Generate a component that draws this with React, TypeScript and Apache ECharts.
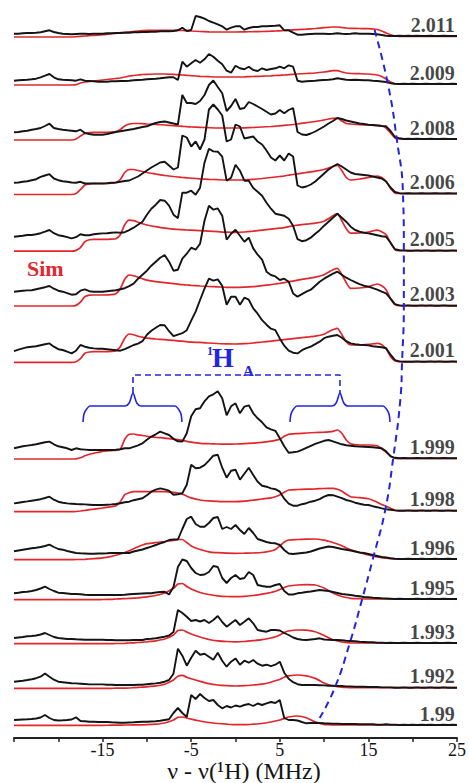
import React, { useEffect, useRef } from "react";
import * as echarts from "echarts";

// g-value of each spectrum (top to bottom)
const LABELS = ["2.011", "2.009", "2.008", "2.006", "2.005", "2.003", "2.001", "1.999", "1.998", "1.996", "1.995", "1.993", "1.992", "1.99"];
// vertical offset of each spectrum in the stack (arbitrary intensity units)
const BASELINES = [702, 654, 599, 544.5, 487.3, 432.3, 376.3, 279.7, 227.3, 179, 139, 95, 50.3, 13];
const TICK_LABELS = [-15, -5, 5, 15, 25];

// frequency grid of the experimental traces, MHz
const X_EXP = [
  -25, -24.5, -24, -23.5, -23, -22.5, -22, -21.5, -21, -20.5,
  -20, -19.5, -19, -18.5, -18, -17.5, -17, -16.5, -16, -15.5,
  -15, -14.5, -14, -13.5, -13, -12.5, -12, -11.5, -11, -10.5,
  -10, -9.5, -9, -8.5, -8, -7.5, -7, -6.5, -6, -5.5,
  -5, -4.5, -4, -3.5, -3, -2.5, -2, -1.5, -1, -0.5,
  0, 0.5, 1, 1.5, 2, 2.5, 3, 3.5, 4, 4.5,
  5, 5.5, 6, 6.5, 7, 7.5, 8, 8.5, 9, 9.5,
  10, 10.5, 11, 11.5, 12, 12.5, 13, 13.5, 14, 14.5,
  15, 15.5, 16, 16.5, 17, 17.5, 18, 18.5, 19, 19.5,
  20, 20.5, 21, 21.5, 22, 22.5, 23, 23.5, 24, 24.5,
  25,
];

const EXP_2011 = [2.3, 2.3, 2.7, 3, 3, 3.3, 3.7, 4.7, 5.7, 4, 3, 2.3, 2, 1.7, 2, 2.3, 2.3, 2, 2.3, 2.3, 2.3, 2.7, 2.7, 3, 3, 3.3, 3.3, 3.7, 3.7, 4, 4, 4.3, 4.3, 4.7, 4.7, 4.7, 5, 5.7, 8.3, 5, 6, 20, 19, 17.3, 15, 13.3, 11.7, 9.7, 6.3, 8.3, 9.7, 9.7, 6.3, 8, 9, 9, 9.7, 9.7, 10, 10.3, 10.7, 5.7, 5.7, 3.3, 1.3, 1.3, 1.7, 2, 2.3, 2.3, 2.3, 2, 2.3, 2.7, 2.3, 2, 2.3, 2.7, 2.3, 2.3, 2.3, 2, 1.7, 1, 0.3, 0, 0, 0.3, 0, 0.3, 0, 0.3, 0, 0, 0.3, 0, 0, 0.3, 0, 0, 0];
const EXP_2009 = [3.3, 3.7, 4, 4.3, 4.7, 5.3, 6.7, 8.3, 10, 6.7, 4.7, 4.3, 4, 3.7, 3.3, 4.7, 3.3, 3, 2.7, 2.3, 2.3, 2.3, 2.7, 2.7, 3, 3, 3.3, 3.7, 4, 4.3, 4.7, 5, 5.3, 5.7, 6.3, 6.7, 6.7, 4, 22.3, 17.3, 20.7, 24, 21.3, 24.7, 30, 27.3, 23.3, 19.7, 13.3, 11.3, 18.3, 15.7, 14.7, 17.3, 14, 13, 15.7, 14, 15, 15.7, 17.3, 15.7, 18.7, 17.3, 3.3, 2.3, 2.7, 3, 3.3, 3.7, 4, 4.3, 4.7, 5.7, 5, 4.3, 4, 4.3, 4, 3.7, 3.7, 3.3, 3, 2.5, 2, 0.8, 0.3, 0, 0.3, 0, 0.3, 0, 0, 0.3, 0, 0, 0.3, 0, 0, 0.3, 0];
const EXP_2008 = [6.7, 7, 7.7, 8.3, 9.3, 10, 11, 13, 15.3, 11, 10, 9.3, 8.7, 8.3, 7.7, 9.3, 6, 5, 4.3, 4.3, 4.3, 5, 6, 7, 7.7, 8.5, 9.3, 10, 11, 12, 12.7, 14.5, 16, 17, 17.5, 16.5, 15.5, 14.5, 44, 36, 36, 35, 38, 44, 54, 58.5, 52, 45.7, 28, 33, 40, 30, 31, 37, 35, 32.5, 30, 27.3, 24.5, 25.5, 29, 25.7, 29, 31, 7, 4.5, 4, 5.5, 7.5, 10, 12.5, 15.5, 18, 21, 20, 18.5, 17.5, 16.5, 15.5, 15, 14.3, 14, 13.5, 13, 12.7, 8, 2, 0.7, 0, 0.3, 0, 0.3, 0, 0, 0.3, 0, 0, 0.3, 0, 0, 0];
const EXP_2006 = [10.7, 11, 11.7, 12.3, 13.3, 14.3, 16.7, 18, 19.3, 15, 13.3, 12.3, 11.7, 11, 10.7, 11.7, 10, 10, 10, 10, 10, 10.3, 10.7, 11, 11.7, 12.5, 13, 15, 17, 20, 23, 26, 28.5, 31, 31.7, 28, 24, 26, 58, 56, 47, 52, 44, 54, 84, 89, 84, 78, 52, 54, 69, 67, 55, 56, 57, 52, 49, 43, 36, 33, 38, 33, 40, 37, 8, 6, 7, 9, 12, 16, 20, 24, 27, 29.5, 27, 24, 21, 19.5, 19, 18.5, 18, 17, 16, 15, 12, 6, 1.5, 0.3, 0, 0.3, 0, 0, 0.3, 0, 0, 0.3, 0, 0, 0.3, 0, 0];
const EXP_2005 = [14, 14.5, 15, 15.7, 15.7, 16.5, 17.5, 19, 20.7, 17.5, 15.5, 14.7, 13.5, 12.3, 13.5, 16.5, 15.5, 15.5, 16.5, 17, 17.3, 17.5, 18, 18.3, 18, 18.5, 20.5, 23, 26, 29, 36, 42, 46, 50.7, 50, 45, 36, 32.5, 58, 58, 60, 56, 63, 88, 102, 99.3, 99, 94, 70, 73, 86, 80, 70, 70, 62.7, 59, 55, 48, 42, 37, 36, 35, 32, 25, 11.5, 9.5, 10.5, 13, 17, 20.5, 25, 29, 33, 37, 33, 29, 24, 20.7, 19, 18, 17.3, 16.5, 15.5, 14.5, 14, 8, 1.5, 0.5, 0.3, 0, 0, 0.3, 0, 0.3, 0, 0, 0.3, 0, 0, 0.3, 0];
const EXP_2003 = [14, 14.5, 15, 15.3, 15.5, 16.5, 17.5, 18.5, 19.7, 17, 15, 14, 12.5, 11, 11.5, 15, 16.3, 14.5, 14, 14, 14, 14.5, 15, 15.5, 16.5, 17.5, 19.5, 22, 27, 31, 35, 40, 44, 48, 50.7, 44, 35, 36, 47, 52, 58, 56, 62, 85, 100, 96, 97.3, 90, 66, 72, 76, 70, 64, 68, 57.3, 51, 46, 34, 30.7, 29.3, 25.7, 27, 24, 12.3, 9, 11.5, 14, 16, 20, 24, 27, 29.5, 32, 34, 31, 28, 25.7, 23.5, 21.5, 20, 19, 17.5, 16, 14, 12.3, 7, 1.5, 0.3, 0, 0.3, 0, 0, 0.3, 0, 0.3, 0, 0, 0.3, 0, 0, 0];
const EXP_2001 = [10.5, 12, 13.3, 14.5, 15, 15.5, 16.5, 17.5, 18.3, 15, 12.5, 11.7, 10, 8.3, 11, 16.7, 15, 14, 13.3, 13, 13, 12.5, 12, 11.5, 11, 12.5, 14.5, 16.7, 18, 20.5, 27, 31, 34, 36.7, 36.5, 30.5, 25.5, 27, 28.5, 31.5, 41, 50, 61.7, 73, 83, 81, 82.3, 76, 57, 65, 65, 57, 64, 62, 53.3, 48, 41.5, 37, 33, 31.5, 23.3, 16, 11, 9, 8.3, 11.5, 13.5, 15, 17.5, 20, 23.5, 25, 26, 26.7, 24, 20.5, 18.3, 17.5, 17, 16.7, 16.3, 15.5, 15, 14.5, 13.5, 7, 1.5, 0.3, 0, 0, 0, 0.3, 0, 0, 0.3, 0, 0.3, 0, 0, 0.3, 0];
const EXP_1999 = [10, 11, 12, 12.7, 13.3, 14, 15, 16, 16.7, 14, 12, 11, 10, 8.3, 10, 9, 8.7, 8.3, 8.3, 8.3, 8.3, 8.3, 8.3, 8.5, 9, 10, 10, 11.5, 13, 15, 18.5, 21.7, 24, 26.7, 25, 23.3, 19.5, 17, 16.7, 25, 42, 49, 50, 57, 62, 64, 67, 60, 43, 52, 55, 45, 51.7, 53, 45, 40, 36, 31, 29, 27.5, 20, 12, 5.5, 6, 6.7, 8.5, 10.5, 12.5, 14.5, 16, 17.5, 18.3, 17, 15.5, 14, 13, 12.5, 12, 11.7, 11.5, 11.3, 11, 10.5, 10, 7, 2, 0.5, 0, 0.3, 0, 0, 0.3, 0, 0, 0.3, 0, 0, 0.3, 0, 0, 0];
const EXP_1998 = [7.3, 8, 8.7, 9.3, 10, 10.7, 11.5, 12.7, 14, 11, 9, 8, 7.3, 7, 6.7, 6.5, 6.3, 6, 5.7, 5.7, 5.7, 6, 6.3, 6.7, 7.5, 8.5, 9, 10.5, 11.5, 12.5, 15.5, 19, 21, 22.3, 21.3, 20, 16, 16.5, 17.5, 26, 46, 42.5, 43, 45.5, 50, 55, 56, 43, 33, 40, 41, 31, 37, 43, 35.7, 29, 25, 24, 22.3, 21.5, 19, 12, 7, 5, 5, 6.5, 7.5, 9, 10, 11.5, 14, 15.7, 15.5, 14, 12.5, 10.7, 9.5, 8, 7, 6, 5.7, 4.5, 3.5, 2.3, 1.5, 1, 0.3, 0, 0, 0.3, 0, 0, 0.3, 0, 0, 0.3, 0, 0, 0.3, 0, 0];
const EXP_1996 = [7.7, 8.5, 9.3, 10, 10.7, 11.3, 12, 13, 14.3, 12, 10, 9.3, 8, 7, 6, 5.7, 5.5, 5.3, 5.3, 5.5, 5.5, 5.7, 6, 6, 6, 6, 6, 7.5, 8.5, 9.5, 11, 12.3, 14, 15.7, 17, 19, 19.5, 19.5, 30, 40, 42.3, 35, 32.3, 32.3, 36, 41, 42, 30, 32, 30, 34, 29, 25, 31, 26, 20, 18.5, 17, 16, 15.7, 14, 9, 5.5, 5, 5.5, 6, 6.5, 7.5, 9, 10.5, 11.5, 12.5, 12, 11, 10, 9.3, 8.5, 7.5, 6.5, 6, 5, 4, 3, 2, 1.5, 0.7, 0.3, 0, 0, 0.3, 0, 0, 0.3, 0, 0, 0.3, 0, 0, 0.3, 0, 0];
const EXP_1995 = [5.7, 6.3, 7, 7.3, 8, 9, 10.5, 12.3, 10, 8, 6.3, 6, 5.5, 5, 5, 4.7, 4.3, 4, 4, 4, 4, 4, 4, 4, 4, 4.3, 4.7, 5, 5.3, 5.5, 5.7, 5.7, 6.5, 7, 7.3, 4.5, 12, 32, 39.5, 38, 31, 26, 24, 24.5, 27, 33, 32, 21, 16, 21, 24, 20, 21, 27, 24, 14, 13, 12.3, 12.3, 14, 15, 8, 4.5, 4.5, 5.7, 6.3, 7, 7.5, 8.3, 9, 8.5, 8, 7, 6, 5, 4.5, 4, 3.3, 2.7, 2, 1.7, 1.3, 1, 0.7, 0.5, 0.3, 0, 0.3, 0, 0, 0, 0.3, 0, 0, 0.3, 0, 0, 0.3, 0, 0, 0];
const EXP_1993 = [5, 5.5, 6, 6.7, 7, 7.5, 8.5, 10, 8, 6, 5, 4.5, 4, 4, 3.7, 3.5, 3.3, 3.3, 3.3, 3.3, 3.3, 3, 3, 2.7, 2.7, 2.7, 2.7, 3, 3, 3, 4, 4.3, 4.7, 5.5, 6.3, 7.5, 11, 33, 30, 26.3, 22, 23, 21.5, 23, 20, 23, 27, 21, 16.3, 19.7, 23, 18, 21.3, 24.7, 19.7, 13, 12, 11.3, 13, 13, 12.5, 10, 8, 5.5, 4, 3.3, 3, 3.5, 4, 4.7, 3.5, 3.3, 3, 3, 2.7, 2.3, 2, 1.7, 1.3, 1, 0.7, 0.7, 0.3, 0.3, 0, 0.3, 0, 0, 0.3, 0, 0, 0.3, 0, 0, 0, 0.3, 0, 0, 0.3, 0, 0];
const EXP_1992 = [6, 6.5, 7, 7.7, 8.5, 9.5, 11, 14.3, 11, 8, 6, 5.5, 5, 4.5, 4.3, 4, 3.7, 3.3, 3.3, 3.3, 3.3, 3, 3, 2.7, 2.7, 2.7, 2.7, 2.7, 3, 3, 3.5, 4, 4.3, 5, 6, 7.7, 14, 39, 32, 22, 30, 37, 33, 34, 31, 28, 35, 27, 21, 26, 29.3, 23, 27, 25, 27.7, 24, 22, 23, 21.5, 23, 26, 15, 9, 5.5, 3.5, 2.7, 2.7, 2.7, 2.7, 2.5, 2.3, 2, 2, 1.7, 1.7, 1.3, 1.3, 1, 1, 1, 0.7, 0.7, 0.7, 0.3, 0.3, 0.3, 0, 0, 0.3, 0, 0, 0.3, 0, 0, 0.3, 0, 0, 0.3, 0, 0, 0];
const EXP_1990 = [5, 5.3, 5.5, 5.7, 6, 6.5, 7.5, 10, 7, 5, 4.5, 4.7, 5, 5.5, 7.7, 4, 3.7, 3.3, 3.3, 3, 3, 3, 2.7, 2.5, 2.3, 2.3, 2.5, 2.7, 3, 3.3, 3.3, 3.5, 3.7, 4.3, 5, 5.7, 12, 17, 12, 8, 30, 26, 31, 27, 24, 25, 20, 16.7, 19, 17.5, 19.5, 18.3, 20, 21, 19, 21.5, 20, 21.7, 23, 22, 25, 7, 5, 5, 4.5, 3, 1.7, 2, 2.3, 2, 1.7, 1.5, 1.3, 1.3, 1, 1, 1, 1, 0.7, 0.7, 0.7, 0.7, 0.3, 0.3, 0.7, 0.3, 0.3, 0, 0.3, 0, 0.3, 0, 0.3, 0, 0.3, 0, 0, 0.3, 0, 0.3, 0];

// frequency grid of the simulated traces, MHz
const X_SIM = [
  -25, -18.5, -18, -17.5, -17, -16.5, -16, -15, -14, -13.5,
  -13, -12.5, -12, -11.5, -11, -10.5, -10, -9, -8, -7,
  -6.5, -6, -5.5, -5, -4, -3, -2, -1, 0, 1,
  2, 3, 4, 4.5, 5, 5.5, 6, 7, 8, 9,
  10, 10.5, 11, 11.5, 12, 12.5, 13, 14, 15, 16,
  16.5, 17, 17.5, 18, 18.5, 19, 25,
];

const SIM_2011 = [-1, -1, -0.7, -0.3, 0, 0.3, 0.7, 1.3, 2.3, 2.7, 3.3, 3.7, 4, 4.5, 5, 5.3, 5.7, 5.7, 5.7, 5.7, 5.7, 5.5, 5.3, 5, 4.5, 4.2, 4, 4, 4, 4.2, 4.3, 4.5, 4.8, 5, 5.2, 5.5, 5.8, 6.3, 6.8, 7.5, 8.3, 8.7, 9, 9, 8.5, 8, 7.7, 7.5, 7.3, 6.5, 5, 3, 1.3, 0, -0.3, -0.3, -0.3];
const SIM_2009 = [-1, -1, -0.7, 1, 2, 2.5, 3, 4, 5, 5.5, 6, 7, 8, 8.5, 9, 9.5, 9.7, 10, 10, 9.7, 9.3, 9, 8.7, 8.3, 7.7, 7.3, 7, 7, 7, 7.2, 7.5, 7.8, 8.2, 8.5, 8.7, 9, 9.3, 10, 10.5, 11, 12, 12.7, 13.3, 13.3, 12, 11, 10.5, 10.3, 10, 9, 7.5, 5, 2, 0, 0, 0, 0];
const SIM_2008 = [-1, -1, 0, 3, 5.5, 6.3, 6.7, 6.7, 7, 7.5, 9.5, 13, 15, 15.5, 15.5, 15.3, 15, 14.5, 14, 13.3, 13, 12.7, 12.3, 12, 11.7, 11.3, 11, 11, 11, 11.2, 11.5, 12, 12.5, 12.8, 13.2, 13.6, 14, 15, 16.3, 17.5, 19, 20, 20.7, 21, 18, 15.5, 15, 14.3, 14, 13.7, 13.3, 11, 6, 1, 0, 0, 0];
const SIM_2006 = [-1, -1, 0, 4, 8.5, 9.7, 10, 10, 10.3, 11, 14, 21, 24, 24, 23, 22, 21, 19.5, 18, 17, 16.5, 16, 15.7, 15.3, 14.7, 14.2, 13.8, 13.5, 13.5, 13.7, 14.2, 15, 16, 16.5, 17, 17.5, 18.3, 19.7, 21, 22.3, 24, 25.5, 27, 28, 23, 16, 13.5, 14.5, 16, 17.5, 16, 12, 5, 0.5, 0, 0, 0];
const SIM_2005 = [-0.5, -0.5, 0.3, 3, 9, 11, 11.3, 11.3, 11.5, 12, 16, 26, 30.5, 30, 28.5, 27, 25.7, 24, 22.5, 21.5, 21.3, 21, 20.7, 20.5, 20, 19.5, 19, 18.5, 18.3, 18.7, 19.5, 20.5, 21.5, 22, 22.5, 23, 24, 25.5, 26.5, 27.5, 29.5, 32, 35, 37, 30, 22, 17.5, 17.7, 18.7, 20.5, 19, 16, 8, 1, 0, 0, 0];
const SIM_2003 = [-0.3, -0.3, 0.3, 3.5, 9, 10.5, 10.7, 10.7, 11, 12, 17, 26.5, 30.7, 30, 28.5, 27, 25.5, 24, 23, 22, 21.5, 21, 20.7, 20.3, 19.7, 19.2, 18.8, 18.4, 18.3, 18.5, 19, 20, 21, 21.7, 22.3, 23, 24, 25.5, 27, 28.5, 31, 33.5, 36, 37.3, 31, 23, 17.3, 17.7, 19, 21.7, 20, 16, 7, 1, 0, 0, 0];
const SIM_2001 = [-0.7, -0.7, 0, 3, 8.5, 9.7, 10, 10, 10.3, 11, 15, 23.5, 27.7, 27, 25.5, 24.5, 23.5, 22.7, 22, 21.3, 20.8, 20.5, 20, 19.5, 19.3, 18.7, 18.2, 17.8, 17.7, 18, 18.7, 19.7, 20.5, 21, 21.5, 22, 22.5, 23.5, 24.5, 25.5, 27.5, 30, 32, 33.3, 27, 20, 16.7, 16.7, 17.3, 18.3, 17, 13, 5, 1, 0, 0, 0];
const SIM_1999 = [-0.7, -0.7, -0.5, 0.5, 2.5, 4, 5, 7, 7.7, 8, 9, 19, 24, 24.3, 23.5, 22.8, 22, 21, 20.2, 19.2, 18.6, 18, 17, 16.2, 15, 14.6, 14.3, 14.2, 14.3, 14.6, 15.2, 16, 17.2, 18, 19, 22, 24, 24.7, 25.3, 25.8, 26.2, 26.5, 27, 28.3, 25, 18.3, 14.5, 13.3, 13.3, 12.5, 9.5, 6, 2.5, 0, 0, 0, 0];
const SIM_1998 = [-1, -1, -0.8, -0.3, 0.3, 1, 1.5, 2.7, 4, 5, 9, 16, 18, 19, 19, 19, 19, 19, 19, 18.3, 17.7, 16.7, 14.5, 12.8, 10.7, 9.8, 9.3, 9, 9, 9.5, 10.5, 11.7, 12.8, 14, 15.7, 18.5, 20.7, 21.2, 21.5, 21.8, 22.2, 22.3, 22.3, 21.5, 19.5, 16.5, 14, 13, 12, 8.5, 6.3, 4.5, 2.5, 0.5, 0, 0, 0];
const SIM_1996 = [-0.7, -0.7, -0.5, -0.5, -0.3, 0, 0.3, 1.2, 2.7, 3.7, 5, 6.5, 8.3, 10.3, 12.3, 14, 15.3, 16.5, 17.5, 18.7, 19.5, 19.5, 16.5, 13, 9.5, 7.2, 6.3, 5.8, 5.7, 5.8, 6, 6.5, 8, 9.5, 13, 17, 19, 19.5, 19.8, 20, 18.8, 17.7, 16.5, 15, 13.3, 11, 9.3, 6.5, 4, 2, 1.3, 0.8, 0.4, 0, 0, 0, 0];
const SIM_1995 = [-0.7, -0.7, -0.7, -0.7, -0.7, -0.7, -0.7, -0.5, -0.3, 0, 0.2, 0.4, 0.6, 0.8, 1.2, 1.7, 2.2, 3.5, 6, 10.7, 15, 15.5, 12.5, 10, 6.5, 4.5, 3.2, 2.5, 2.3, 2.6, 3.5, 4.8, 6.5, 7.7, 9.5, 11.5, 13, 14, 14.3, 14, 11, 8.5, 6, 4, 2.5, 1.5, 0.7, 0.3, 0, 0, 0, 0, 0, 0, 0, 0, 0];
const SIM_1993 = [-0.7, -0.7, -0.7, -0.7, -0.7, -0.7, -0.7, -0.7, -0.6, -0.5, -0.5, -0.3, 0, 0.2, 0.5, 0.8, 1.2, 2.2, 4, 8, 12.5, 13, 11, 9, 6, 3.5, 2.2, 1.5, 1.2, 1.5, 2.3, 3.3, 5, 6.2, 8, 10.5, 12, 13, 12.8, 11.3, 7.5, 5.3, 3.3, 2, 1, 0.5, 0, 0, 0, 0, 0, 0, 0, 0, 0, 0, 0];
const SIM_1992 = [-0.7, -0.7, -0.7, -0.7, -0.7, -0.7, -0.7, -0.7, -0.6, -0.5, -0.5, -0.4, -0.3, 0, 0.3, 0.6, 0.9, 1.8, 3.5, 7.7, 11.5, 12.3, 10.5, 9, 6.3, 4, 2.7, 2, 1.7, 2, 2.7, 3.5, 5.5, 7, 8.2, 10.5, 11.8, 12.7, 11.8, 9.3, 4.7, 3, 1.7, 1, 0.5, 0.2, 0, 0, 0, 0, 0, 0, 0, 0, 0, 0, 0];
const SIM_1990 = [-0.3, -0.3, -0.3, -0.3, -0.3, -0.3, -0.3, -0.3, -0.2, -0.2, -0.1, 0, 0, 0.1, 0.2, 0.2, 0.3, 0.8, 2, 5, 7.7, 8, 7, 5.8, 4, 2.5, 1.5, 0.8, 0.3, 0.3, 0.8, 1.5, 3, 4, 5, 6.5, 8, 9, 7.3, 3, 0.7, 0.3, 0, 0, 0, 0, 0, 0, 0, 0, 0, 0, 0, 0, 0, 0, 0];

const EXP = [EXP_2011, EXP_2009, EXP_2008, EXP_2006, EXP_2005, EXP_2003, EXP_2001, EXP_1999, EXP_1998, EXP_1996, EXP_1995, EXP_1993, EXP_1992, EXP_1990];
const SIM = [SIM_2011, SIM_2009, SIM_2008, SIM_2006, SIM_2005, SIM_2003, SIM_2001, SIM_1999, SIM_1998, SIM_1996, SIM_1995, SIM_1993, SIM_1992, SIM_1990];

// blue dashed guide through the high-frequency edges
const EDGE_X = [15.7, 17.2, 18.2, 18.9, 19.0, 19.0, 18.8, 18.6, 17.8, 16.9, 15.5, 14.3, 12.9, 11.2, 9.5];
const EDGE_Y = [708, 654, 599, 545, 488, 433, 376, 338, 280, 228, 179, 139, 95, 50, 20];

// 1H_A coupling bracket (MHz, intensity units)
const BRACE_LEFT = [[-17.21, 316], [-17.1, 324], [-16.8, 329], [-16.42, 332], [-12.47, 332], [-12.0, 335], [-11.57, 345], [-11.14, 335], [-10.67, 332], [-6.83, 332], [-6.45, 329], [-6.15, 324], [-6.04, 316]];
const BRACE_RIGHT = [[6.15, 316], [6.26, 324], [6.56, 329], [6.94, 332], [10.89, 332], [11.36, 335], [11.79, 345], [12.22, 335], [12.7, 332], [16.65, 332], [17.03, 329], [17.33, 324], [17.44, 316]];
const HA_LINE = [[-11.57, 345], [-11.57, 363], [11.79, 363], [11.79, 345]];

const RED = "#e3262b";
const BLACK = "#141414";
const BLUE = "#2424e0";
const SERIF = "'Liberation Serif', 'Times New Roman', serif";

export default function App() {
  const ref = useRef<HTMLDivElement>(null);

  useEffect(() => {
    if (!ref.current) return;
    const chart = echarts.init(ref.current, undefined, { renderer: "svg" });

    const series: any[] = [];
    SIM.forEach((vals, i) => {
      series.push({
        type: "line",
        data: vals.map((v, j) => [X_SIM[j], BASELINES[i] + v]),
        symbol: "none",
        smooth: 0.2,
        lineStyle: { color: RED, width: 1.7 },
        z: 2,
        silent: true,
      });
    });
    EXP.forEach((vals, i) => {
      series.push({
        type: "line",
        data: vals.map((v, j) => [X_EXP[j], BASELINES[i] + v]),
        symbol: "none",
        lineStyle: { color: BLACK, width: 1.9 },
        z: 3,
        silent: true,
      });
    });
    series.push({
      type: "scatter",
      data: LABELS.map((l, i) => ({ name: l, value: [24.8, BASELINES[i] + 1] })),
      symbolSize: 1,
      itemStyle: { color: "rgba(0,0,0,0)" },
      label: {
        show: true,
        formatter: "{b}",
        position: [0, 0],
        align: "right",
        verticalAlign: "bottom",
        fontSize: 20,
        fontWeight: "bold",
        fontFamily: SERIF,
        color: BLACK,
        lineHeight: 20,
      },
      z: 5,
      silent: true,
    });
    series.push({
      type: "line",
      data: EDGE_X.map((x, j) => [x, EDGE_Y[j]]),
      symbol: "none",
      smooth: true,
      lineStyle: { color: BLUE, width: 2, type: [7, 5] },
      z: 6,
      silent: true,
    });
    [BRACE_LEFT, BRACE_RIGHT].forEach((b) =>
      series.push({
        type: "line",
        data: b,
        symbol: "none",
        smooth: 0.3,
        lineStyle: { color: BLUE, width: 1.6 },
        z: 6,
        silent: true,
      })
    );
    series.push({
      type: "line",
      data: HA_LINE,
      symbol: "none",
      lineStyle: { color: BLUE, width: 1.6, type: [6, 4] },
      z: 6,
      silent: true,
    });

    chart.setOption({
      animation: false,
      backgroundColor: "#ffffff",
      grid: { left: 14, right: 12, top: 0, bottom: 45, containLabel: false },
      xAxis: {
        type: "value",
        min: -25,
        max: 25,
        interval: 5,
        axisLine: { show: true, lineStyle: { color: "#222", width: 2 } },
        axisTick: { show: true, inside: false, length: 4, lineStyle: { color: "#222", width: 1.5 } },
        splitLine: { show: false },
        axisLabel: {
          formatter: (v: number) => (TICK_LABELS.includes(v) ? String(v) : ""),
          fontSize: 18,
          fontFamily: SERIF,
          color: BLACK,
          margin: 3,
          lineHeight: 17,
          showMaxLabel: true,
          showMinLabel: true,
        },
      },
      yAxis: { type: "value", min: 0, max: 738, show: false },
      series,
      graphic: [
        {
          type: "text",
          x: 244,
          y: 759,
          style: { text: "ν - ν(¹H) (MHz)", fontSize: 24, lineHeight: 24, fontFamily: SERIF, fill: BLACK, align: "center", verticalAlign: "top" },
        },
        {
          type: "text",
          x: 27,
          y: 257,
          style: { text: "Sim", fontSize: 22, fontWeight: "bold", fontFamily: SERIF, fill: RED, align: "left", verticalAlign: "top" },
        },
        {
          type: "text",
          x: 207,
          y: 345,
          style: { text: "1", fontSize: 12, fontWeight: "bold", fontFamily: SERIF, fill: BLUE, align: "left", verticalAlign: "top" },
        },
        {
          type: "text",
          x: 212,
          y: 343,
          style: { text: "H", fontSize: 28, fontWeight: "bold", fontFamily: SERIF, fill: BLUE, align: "left", verticalAlign: "top" },
        },
        {
          type: "text",
          x: 243,
          y: 363,
          style: { text: "A", fontSize: 15, fontWeight: "bold", fontFamily: SERIF, fill: BLUE, align: "left", verticalAlign: "top" },
        },
      ],
    });

    return () => chart.dispose();
  }, []);

  return (
    <div
      ref={ref}
      style={{ position: "fixed", left: 0, top: 0, width: 469, height: 783, background: "#fff" }}
    />
  );
}
